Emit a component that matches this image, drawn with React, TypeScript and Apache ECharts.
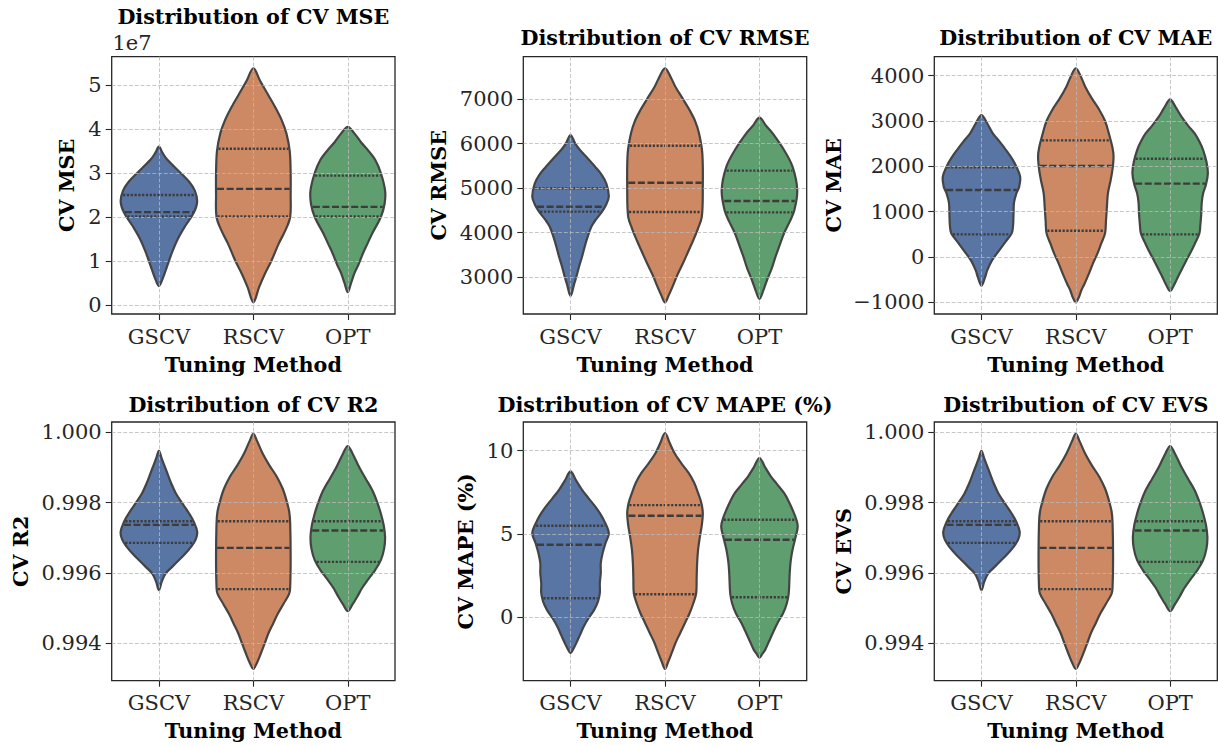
import React, { useEffect, useRef } from "react";
import * as echarts from "echarts";

const CATEGORIES = ["GSCV", "RSCV", "OPT"];
const COLORS = ["#5875A4", "#CC8963", "#5F9E6E"];
const OUTLINE = "#444444";
const FONT = '"DejaVu Serif", serif';

// ---- CV MSE (raw values, axis shows ×1e7) ----
const MSE_LEVELS = [
  [3.6e7, 3.45e7, 3.3e7, 3.0e7, 2.8e7, 2.6e7, 2.35e7, 2.1e7, 1.8e7, 1.5e7, 1.2e7, 0.9e7, 0.6e7, 0.43e7],
  [5.38e7, 5.1e7, 4.8e7, 4.5e7, 4.2e7, 3.9e7, 3.5e7, 3.0e7, 2.5e7, 2.0e7, 1.7e7, 1.4e7, 1.0e7, 0.7e7, 0.4e7, 0.06e7],
  [4.05e7, 3.9e7, 3.7e7, 3.5e7, 3.3e7, 3.0e7, 2.6e7, 2.3e7, 2.0e7, 1.63e7, 1.4e7, 1.17e7, 0.9e7, 0.72e7, 0.5e7, 0.29e7],
];
const MSE_WIDTHS = [
  [0, 0.04, 0.09, 0.23, 0.32, 0.38, 0.405, 0.37, 0.28, 0.2, 0.14, 0.09, 0.04, 0],
  [0, 0.07, 0.15, 0.23, 0.3, 0.35, 0.385, 0.395, 0.395, 0.39, 0.34, 0.27, 0.19, 0.12, 0.06, 0],
  [0, 0.07, 0.14, 0.22, 0.29, 0.35, 0.395, 0.39, 0.35, 0.26, 0.21, 0.16, 0.11, 0.07, 0.035, 0],
];
const MSE_QUARTILES = [
  [2.01e7, 2.11e7, 2.5e7],
  [2.01e7, 2.64e7, 3.55e7],
  [2.01e7, 2.23e7, 2.94e7],
];
const MSE_TICKS = [0, 1e7, 2e7, 3e7, 4e7, 5e7];
const MSE_RANGE = [-0.205e7, 5.643e7];

// ---- CV RMSE ----
const RMSE_LEVELS = [
  [6193, 6000, 5856, 5650, 5482, 5300, 5100, 4809, 4600, 4436, 4300, 4136, 3900, 3688, 3450, 3239, 3000, 2865, 2581],
  [7688, 7450, 7277, 7000, 6753, 6500, 6230, 5781, 5000, 4361, 4100, 3837, 3550, 3314, 3050, 2791, 2600, 2439],
  [6581, 6400, 6230, 5856, 5482, 4959, 4510, 4250, 3987, 3700, 3464, 3200, 2940, 2700, 2514],
];
const RMSE_WIDTHS = [
  [0, 0.05, 0.1, 0.19, 0.26, 0.33, 0.38, 0.405, 0.37, 0.32, 0.27, 0.22, 0.18, 0.15, 0.12, 0.09, 0.06, 0.04, 0],
  [0, 0.07, 0.11, 0.19, 0.26, 0.32, 0.36, 0.395, 0.4, 0.39, 0.35, 0.3, 0.24, 0.19, 0.13, 0.08, 0.04, 0],
  [0, 0.07, 0.14, 0.26, 0.35, 0.4, 0.37, 0.32, 0.26, 0.21, 0.17, 0.13, 0.08, 0.04, 0],
];
const RMSE_QUARTILES = [
  [4473, 4585, 4996],
  [4465, 5123, 5953],
  [4458, 4712, 5393],
];
const RMSE_TICKS = [3000, 4000, 5000, 6000, 7000];
const RMSE_RANGE = [2177, 7950];

// ---- CV MAE ----
const MAE_LEVELS = [
  [3132, 2950, 2728, 2550, 2360, 2150, 1993, 1772, 1550, 1404, 1200, 963, 700, 522, 350, 150, -80, -300, -434, -632],
  [4162, 3950, 3757, 3500, 3243, 3000, 2728, 2400, 2213, 1950, 1699, 1400, 1110, 800, 522, 300, 81, -150, -360, -600, -728, -900, -999],
  [3478, 3300, 3096, 2900, 2728, 2550, 2360, 2100, 1846, 1600, 1404, 1200, 963, 700, 522, 330, 154, -80, -287, -450, -581, -750],
];
const MAE_WIDTHS = [
  [0, 0.06, 0.12, 0.19, 0.26, 0.33, 0.37, 0.41, 0.4, 0.37, 0.345, 0.34, 0.335, 0.32, 0.26, 0.19, 0.11, 0.06, 0.04, 0],
  [0, 0.06, 0.1, 0.17, 0.25, 0.31, 0.35, 0.39, 0.4, 0.39, 0.37, 0.34, 0.33, 0.32, 0.31, 0.27, 0.23, 0.18, 0.14, 0.09, 0.06, 0.03, 0],
  [0, 0.06, 0.12, 0.19, 0.26, 0.31, 0.35, 0.385, 0.4, 0.38, 0.35, 0.335, 0.33, 0.32, 0.31, 0.27, 0.23, 0.17, 0.12, 0.08, 0.05, 0],
];
const MAE_QUARTILES = [
  [500, 1478, 1978],
  [581, 2007, 2574],
  [500, 1618, 2169],
];
const MAE_TICKS = [-1000, 0, 1000, 2000, 3000, 4000];
const MAE_RANGE = [-1257, 4419];

// ---- CV R2 ----
const R2_LEVELS = [
  [0.99947, 0.99925, 0.99911, 0.99883, 0.99855, 0.99826, 0.99797, 0.99769, 0.99745, 0.99717, 0.99695, 0.99674, 0.99655, 0.99636, 0.99617, 0.99598, 0.99575, 0.995507],
  [0.99996, 0.99975, 0.99939, 0.99906, 0.99873, 0.9984, 0.99807, 0.99774, 0.9974, 0.99646, 0.9956, 0.99541, 0.99512, 0.99484, 0.99456, 0.99428, 0.99399, 0.99371, 0.99345, 0.993264],
  [0.999611, 0.9994, 0.99901, 0.99868, 0.99835, 0.99802, 0.99769, 0.99736, 0.99702, 0.99669, 0.99636, 0.99608, 0.99579, 0.99556, 0.99532, 0.9951, 0.99491],
];
const R2_WIDTHS = [
  [0, 0.03, 0.05, 0.09, 0.13, 0.18, 0.25, 0.32, 0.37, 0.405, 0.39, 0.34, 0.28, 0.21, 0.14, 0.07, 0.03, 0],
  [0, 0.04, 0.1, 0.17, 0.25, 0.31, 0.35, 0.38, 0.39, 0.395, 0.39, 0.38, 0.32, 0.26, 0.21, 0.16, 0.12, 0.08, 0.04, 0],
  [0, 0.05, 0.12, 0.19, 0.26, 0.31, 0.35, 0.38, 0.395, 0.385, 0.35, 0.29, 0.21, 0.15, 0.1, 0.05, 0],
];
const R2_QUARTILES = [
  [0.996853, 0.997365, 0.997469],
  [0.995536, 0.996711, 0.997469],
  [0.996313, 0.997204, 0.997469],
];
const R2_TICKS = [0.994, 0.996, 0.998, 1.0];
const R2_RANGE = [0.992929, 1.000294];

// ---- CV MAPE (%) ----
const MAPE_LEVELS = [
  [8.76, 8.2, 7.66, 7.15, 6.65, 6.25, 5.85, 5.05, 4.45, 3.85, 3.25, 2.65, 2.05, 1.44, 0.94, 0.44, -0.06, -0.56, -1.06, -1.56, -1.9, -2.16],
  [11.06, 10.46, 9.86, 9.26, 8.66, 8.06, 7.46, 6.85, 6.25, 5.55, 4.85, 4.05, 3.25, 2.35, 1.44, 0.84, 0.24, -0.36, -0.96, -1.56, -2.16, -2.66, -3.1],
  [9.56, 9.0, 8.46, 7.96, 7.46, 6.95, 6.45, 5.95, 5.45, 4.75, 4.05, 3.35, 2.65, 1.44, 0.84, 0.24, -0.36, -0.96, -1.46, -1.96, -2.2, -2.42],
];
const MAPE_WIDTHS = [
  [0, 0.06, 0.12, 0.19, 0.26, 0.31, 0.35, 0.405, 0.37, 0.34, 0.32, 0.32, 0.31, 0.31, 0.29, 0.25, 0.19, 0.14, 0.1, 0.06, 0.03, 0],
  [0, 0.05, 0.1, 0.17, 0.25, 0.31, 0.35, 0.385, 0.4, 0.39, 0.37, 0.35, 0.34, 0.335, 0.33, 0.3, 0.26, 0.21, 0.16, 0.11, 0.07, 0.035, 0],
  [0, 0.06, 0.12, 0.19, 0.26, 0.31, 0.35, 0.385, 0.405, 0.38, 0.35, 0.33, 0.32, 0.31, 0.29, 0.25, 0.19, 0.14, 0.1, 0.06, 0.03, 0],
];
const MAPE_QUARTILES = [
  [1.14, 4.35, 5.49],
  [1.38, 6.09, 6.73],
  [1.2, 4.65, 5.85],
];
const MAPE_TICKS = [0, 5, 10];
const MAPE_RANGE = [-3.81, 11.72];

// ---- CV EVS (reads identical to R2) ----
const EVS_LEVELS = R2_LEVELS;
const EVS_WIDTHS = R2_WIDTHS;
const EVS_QUARTILES = R2_QUARTILES;
const EVS_TICKS = R2_TICKS;
const EVS_RANGE = R2_RANGE;

const minus = (s: string) => s.replace("-", "\u2212");

const PANELS = [
  {
    title: "Distribution of CV MSE", yName: "CV MSE",
    levels: MSE_LEVELS, widths: MSE_WIDTHS, quart: MSE_QUARTILES, ticks: MSE_TICKS, range: MSE_RANGE,
    fmt: (v: number) => minus(String(Math.round(v / 1e6) / 10)),
    rect: { left: 111.7, top: 56.7, width: 283.3, height: 257.3 }, titleY: 16.7, nameGap: 34,
  },
  {
    title: "Distribution of CV RMSE", yName: "CV RMSE",
    levels: RMSE_LEVELS, widths: RMSE_WIDTHS, quart: RMSE_QUARTILES, ticks: RMSE_TICKS, range: RMSE_RANGE,
    fmt: (v: number) => minus(String(Math.round(v))),
    rect: { left: 523.3, top: 56.7, width: 283.4, height: 257.3 }, titleY: 38.2, nameGap: 74,
  },
  {
    title: "Distribution of CV MAE", yName: "CV MAE",
    levels: MAE_LEVELS, widths: MAE_WIDTHS, quart: MAE_QUARTILES, ticks: MAE_TICKS, range: MAE_RANGE,
    fmt: (v: number) => minus(String(Math.round(v))),
    rect: { left: 934.3, top: 56.7, width: 283, height: 257.3 }, titleY: 38.2, nameGap: 90,
  },
  {
    title: "Distribution of CV R2", yName: "CV R2",
    levels: R2_LEVELS, widths: R2_WIDTHS, quart: R2_QUARTILES, ticks: R2_TICKS, range: R2_RANGE,
    fmt: (v: number) => v.toFixed(3),
    rect: { left: 111.7, top: 422, width: 283.3, height: 258.7 }, titleY: 404.7, nameGap: 80,
  },
  {
    title: "Distribution of CV MAPE (%)", yName: "CV MAPE (%)",
    levels: MAPE_LEVELS, widths: MAPE_WIDTHS, quart: MAPE_QUARTILES, ticks: MAPE_TICKS, range: MAPE_RANGE,
    fmt: (v: number) => minus(String(Math.round(v))),
    rect: { left: 523.3, top: 422, width: 283.4, height: 258.7 }, titleY: 404.7, nameGap: 47,
  },
  {
    title: "Distribution of CV EVS", yName: "CV EVS",
    levels: EVS_LEVELS, widths: EVS_WIDTHS, quart: EVS_QUARTILES, ticks: EVS_TICKS, range: EVS_RANGE,
    fmt: (v: number) => v.toFixed(3),
    rect: { left: 934.3, top: 422, width: 283, height: 258.7 }, titleY: 404.7, nameGap: 80,
  },
];

function widthAt(levels: number[], widths: number[], v: number): number {
  for (let k = 0; k < levels.length - 1; k++) {
    const a = levels[k], b = levels[k + 1];
    if ((v <= a && v >= b) || (v >= a && v <= b)) {
      const t = a === b ? 0 : (v - a) / (b - a);
      return widths[k] + t * (widths[k + 1] - widths[k]);
    }
  }
  return 0;
}

function makeRenderItem(panel: any) {
  return (params: any, api: any) => {
    const i = params.dataIndex;
    const lv: number[] = panel.levels[i];
    const wd: number[] = panel.widths[i];
    const band = api.size([1, 0])[0];
    const right = lv.map((v, k) => {
      const p = api.coord([i, v]);
      return [p[0] + wd[k] * band, p[1]];
    });
    const left = lv
      .map((v, k) => {
        const p = api.coord([i, v]);
        return [p[0] - wd[k] * band, p[1]];
      })
      .reverse()
      .slice(1, -1);
    const children: any[] = [
      {
        type: "polygon",
        shape: { points: right.concat(left), smooth: 0.35 },
        style: { fill: COLORS[i], stroke: OUTLINE, lineWidth: 2.2, lineJoin: "round" },
      },
    ];
    panel.quart[i].forEach((q: number, k: number) => {
      const w = widthAt(lv, wd, q) * band;
      const p = api.coord([i, q]);
      children.push({
        type: "line",
        z2: 10,
        shape: { x1: p[0] - w + 1, y1: p[1], x2: p[0] + w - 1, y2: p[1] },
        style: {
          stroke: "#3c3c3c",
          lineWidth: 2.4,
          lineDash: k === 1 ? [7, 2.6] : [2.2, 1.6],
        },
      });
    });
    return { type: "group", children };
  };
}

export default function App() {
  const ref = useRef<HTMLDivElement>(null);
  useEffect(() => {
    if (!ref.current) return;
    const chart = echarts.init(ref.current, null, { renderer: "svg" });
    const gridLine = { show: true, lineStyle: { color: "rgba(185,185,185,0.8)", type: [3.8, 2], width: 1 } };
    const tickStyle = { show: true, inside: false, length: 6, lineStyle: { color: "#262626", width: 1.1 } };
    const labelStyle = { color: "#262626", fontFamily: FONT, fontSize: 21 };
    const nameStyle = { color: "#000", fontFamily: FONT, fontSize: 20.7, fontWeight: "bold" };

    const option: any = {
      animation: false,
      backgroundColor: "#ffffff",
      grid: PANELS.map((p) => ({
        ...p.rect,
        show: true,
        borderColor: "#262626",
        borderWidth: 1.3,
        backgroundColor: "transparent",
        containLabel: false,
      })),
      xAxis: PANELS.map((p, gi) => ({
        type: "value",
        gridIndex: gi,
        min: -0.5,
        max: 2.5,
        z: 5,
        axisLine: { show: false, onZero: false },
        axisTick: { ...tickStyle, customValues: [0, 1, 2] },
        axisLabel: {
          ...labelStyle,
          margin: 12,
          customValues: [0, 1, 2],
          formatter: (v: number) => CATEGORIES[Math.round(v)] ?? "",
        },
        splitLine: gridLine,
        name: "Tuning Method",
        nameLocation: "middle",
        nameGap: 40,
        nameTextStyle: nameStyle,
      })),
      yAxis: PANELS.map((p, gi) => ({
        type: "value",
        gridIndex: gi,
        min: p.range[0],
        max: p.range[1],
        z: 5,
        axisLine: { show: false, onZero: false },
        axisTick: { ...tickStyle, customValues: p.ticks },
        axisLabel: {
          ...labelStyle,
          margin: 10,
          customValues: p.ticks,
          formatter: p.fmt,
        },
        splitLine: gridLine,
        name: p.yName,
        nameLocation: "middle",
        nameGap: p.nameGap,
        nameTextStyle: nameStyle,
      })),
      series: PANELS.map((p, gi) => ({
        type: "custom",
        xAxisIndex: gi,
        yAxisIndex: gi,
        z: 2,
        renderItem: makeRenderItem(p),
        encode: { x: 0, y: 1 },
        data: p.quart.map((q: number[], i: number) => [i, q[1]]),
        silent: true,
      })),
      graphic: [
        ...PANELS.map((p) => ({
          type: "text",
          x: p.rect.left + p.rect.width / 2,
          y: p.titleY,
          style: {
            text: p.title,
            fill: "#000",
            font: `bold 20.7px ${FONT}`,
            align: "center",
            verticalAlign: "middle",
          },
        })),
        {
          type: "text",
          x: 112.5,
          y: 43,
          style: {
            text: "1e7",
            fill: "#262626",
            font: `21px ${FONT}`,
            align: "left",
            verticalAlign: "middle",
          },
        },
      ],
    };
    chart.setOption(option);
    return () => chart.dispose();
  }, []);
  return (
    <div
      ref={ref}
      style={{ position: "fixed", left: 0, top: 0, width: 1218, height: 745, background: "#fff" }}
    />
  );
}
